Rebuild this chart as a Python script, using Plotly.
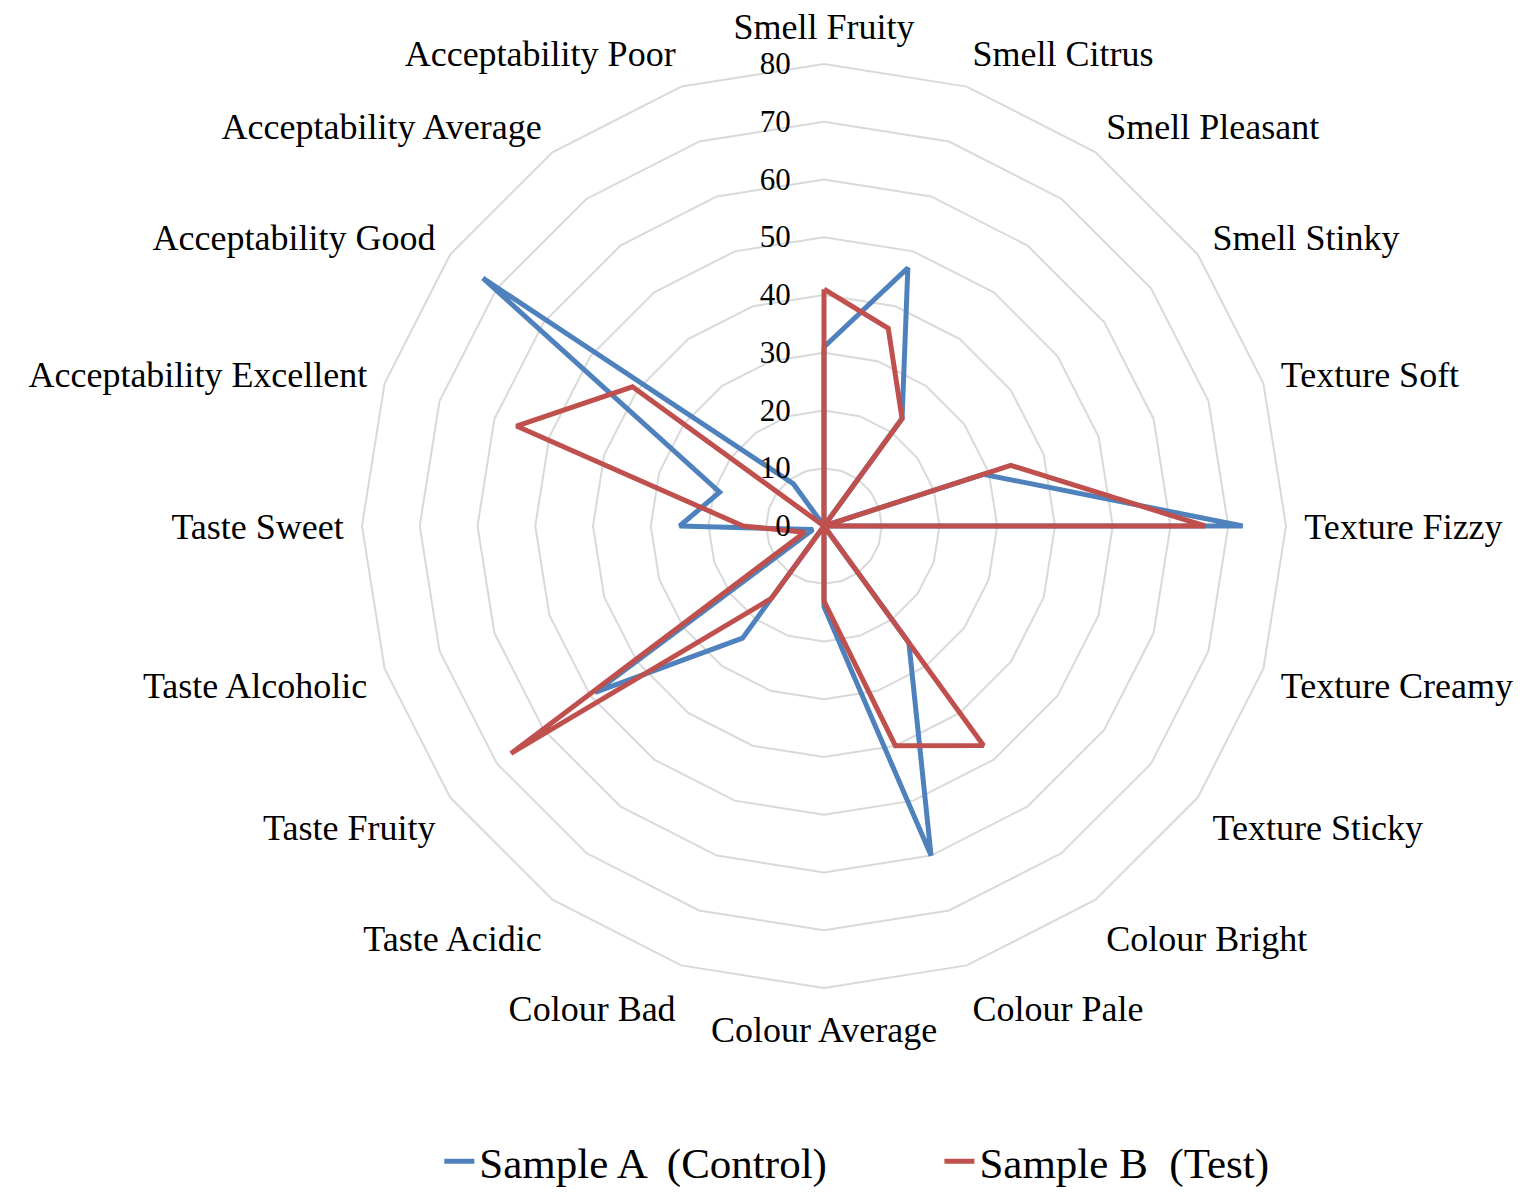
import plotly.graph_objects as go

categories = [
    "Smell Fruity", "Smell Citrus", "Smell Pleasant", "Smell Stinky",
    "Texture Soft", "Texture Fizzy", "Texture Creamy", "Texture Sticky",
    "Colour Bright", "Colour Pale", "Colour Average", "Colour Bad",
    "Taste Acidic", "Taste Fruity", "Taste Alcoholic", "Taste Sweet",
    "Acceptability Excellent", "Acceptability Good",
    "Acceptability Average", "Acceptability Poor",
]
sample_a = [31, 47, 23, 0, 29, 72.5, 0, 0, 25, 60, 14, 0, 24, 49, 2, 25, 19, 73, 9, 0]
sample_b = [41, 36, 23, 0, 34, 66, 0, 0, 47, 40, 13, 0, 15.5, 67, 3.5, 14, 56, 41, 0, 0]
radial_ticks = [0, 10, 20, 30, 40, 50, 60, 70, 80]

font_family = "Liberation Serif"

fig = go.Figure()
fig.add_trace(go.Scatterpolar(
    r=sample_a + sample_a[:1], theta=categories + categories[:1],
    mode="lines", name="Sample A  (Control)" + "\u00a0" * 10,
    line=dict(color="#4F81BD", width=5),
))
fig.add_trace(go.Scatterpolar(
    r=sample_b + sample_b[:1], theta=categories + categories[:1],
    mode="lines", name="Sample B  (Test)",
    line=dict(color="#C0504D", width=5),
))

cx, cy, R = 816, 518, 462
W, H = 1535, 1195

fig.update_layout(
    width=W, height=H,
    margin=dict(l=0, r=0, t=0, b=0),
    paper_bgcolor="white",
    font=dict(family=font_family, color="black", size=27),
    polar=dict(
        domain=dict(x=[(cx - R) / W, (cx + R) / W],
                    y=[(H - cy - R) / H, (H - cy + R) / H]),
        bgcolor="white",
        gridshape="linear",
        angularaxis=dict(
            rotation=90, direction="clockwise",
            showgrid=False, showline=True, linecolor="#d9d9d9", linewidth=2,
            ticks="outside", ticklen=10, tickcolor="rgba(0,0,0,0)",
            tickfont=dict(family=font_family, size=36, color="black"),
        ),
        radialaxis=dict(
            range=[0, 80], tickvals=radial_ticks, angle=90, tickangle=90,
            showline=False, side="counterclockwise",
            ticks="outside", ticklen=22, tickcolor="rgba(0,0,0,0)",
            gridcolor="#d9d9d9", gridwidth=2,
            tickfont=dict(family=font_family, size=31, color="black"),
        ),
    ),
    legend=dict(
        orientation="h", x=0.281, xanchor="left", y=0.035, yanchor="middle",
        font=dict(family=font_family, size=43, color="black"),
        tracegroupgap=0,
    ),
)

fig.write_html("out.html")
